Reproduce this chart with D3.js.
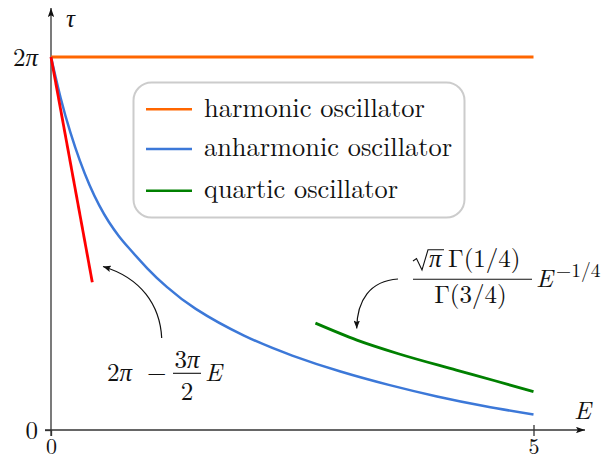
<!DOCTYPE html>
<html>
<head>
<meta charset="utf-8">
<script src="https://cdn.jsdelivr.net/npm/d3@7"></script>
<style>
  html, body { margin: 0; padding: 0; background: #fff; }
  svg { display: block; }
</style>
</head>
<body>
<svg id="chart" width="616" height="460"></svg>
<script>
const TWO_PI = 2 * Math.PI;
const FONT = '"Latin Modern Roman", "Liberation Serif", serif';

// ---- data ----
const xTicks = [0, 5];
const xTickLabels = ["0", "5"];
const yTicks = [0, TWO_PI];
const yTickLabels = ["0", "2π"];

const harmonicE = [0, 5];
const harmonicTau = [TWO_PI, TWO_PI];

const anharmonicE   = [0, 0.1, 0.2, 0.3, 0.4, 0.5, 0.6, 0.7, 0.8, 1.0, 1.2, 1.5, 2.0, 2.5, 3.0, 3.5, 4.0, 4.5, 5.0];
const anharmonicTau = [TWO_PI, 5.593, 5.018, 4.533, 4.123, 3.783, 3.503, 3.273, 3.078, 2.72, 2.41, 2.04, 1.59, 1.254, 0.985, 0.76, 0.565, 0.40, 0.26];

const quarticE   = [2.74, 3.17, 3.6, 4.2, 4.6, 5.0];
const quarticTau = [1.80, 1.515, 1.285, 1.01, 0.83, 0.645];

const smallE   = [0, 0.428];
const smallTau = [TWO_PI, 2.49];

const legendLabels = ["harmonic oscillator", "anharmonic oscillator", "quartic oscillator"];
const legendColors = ["#ff6600", "#3c78d8", "#008000"];

// ---- layout ----
const svg = d3.select("#chart");
const x = d3.scaleLinear().domain([0, 5]).range([51, 533.5]);
const y = d3.scaleLinear().domain([0, TWO_PI]).range([430, 57]);

// write a string into a text element, setting π in italic (math style)
function mathify(t, s) {
  t.text(null);
  s.split(/(π)/).filter(p => p.length).forEach(p => {
    const ts = t.append("tspan").text(p);
    if (p === "π") ts.style("font-style", "italic");
  });
}

function txt(parent, tx, ty, s, size, opts = {}) {
  const t = parent.append("text").attr("x", tx).attr("y", ty)
    .style("font-family", FONT).style("font-size", size + "px")
    .style("fill", "#111");
  mathify(t, s);
  if (opts.italic) t.style("font-style", "italic");
  if (opts.anchor) t.attr("text-anchor", opts.anchor);
  if (opts.len) t.attr("textLength", opts.len).attr("lengthAdjust", "spacingAndGlyphs");
  return t;
}

const defs = svg.append("defs");
function marker(id, w, h) {
  defs.append("marker")
    .attr("id", id)
    .attr("markerUnits", "userSpaceOnUse")
    .attr("viewBox", `0 ${-h} ${w} ${2 * h}`)
    .attr("refX", w).attr("refY", 0)
    .attr("markerWidth", w).attr("markerHeight", 2 * h)
    .attr("orient", "auto")
    .append("path")
    .attr("d", `M0,${-h} L${w},0 L0,${h} L${w * 0.2},0 Z`)
    .attr("fill", "#111");
}
marker("axisArrow", 9, 3.2);
marker("annArrow", 8, 3.2);

// axes lines
const axisColor = "#333";
svg.append("line")
  .attr("x1", x(0) - 6).attr("y1", y(0)).attr("x2", 585).attr("y2", y(0))
  .attr("stroke", axisColor).attr("stroke-width", 1.3)
  .attr("marker-end", "url(#axisArrow)");
svg.append("line")
  .attr("x1", x(0)).attr("y1", y(0) + 6).attr("x2", x(0)).attr("y2", 8)
  .attr("stroke", axisColor).attr("stroke-width", 1.3)
  .attr("marker-end", "url(#axisArrow)");

// x axis ticks
const gx = svg.append("g")
  .attr("transform", `translate(0,${y(0)})`)
  .call(d3.axisBottom(x).tickValues(xTicks)
    .tickFormat((d, i) => xTickLabels[i]).tickSize(6).tickPadding(2));
gx.select(".domain").remove();
gx.selectAll(".tick line")
  .attr("y1", d => d === 0 ? 0 : -5)
  .attr("stroke", axisColor).attr("stroke-width", 1.3);
gx.selectAll(".tick text")
  .style("font-family", FONT).style("font-size", "22px").style("fill", "#111");

// y axis ticks
const gy = svg.append("g")
  .attr("transform", `translate(${x(0)},0)`)
  .call(d3.axisLeft(y).tickValues(yTicks)
    .tickFormat((d, i) => yTickLabels[i]).tickSize(6).tickPadding(7));
gy.select(".domain").remove();
gy.selectAll(".tick line")
  .attr("x2", d => d === 0 ? -6 : 0)
  .attr("stroke", axisColor).attr("stroke-width", 1.3);
gy.selectAll(".tick text")
  .style("font-family", FONT).style("font-size", "25px").style("fill", "#111")
  .each(function (d, i) { mathify(d3.select(this), yTickLabels[i]); });

// axis titles
txt(svg, 66, 27, "τ", 25, { italic: true });
txt(svg, 574, 419, "E", 25, { italic: true });

// curves
const zip = (a, b) => a.map((v, i) => [v, b[i]]);
const straight = d3.line().x(d => x(d[0])).y(d => y(d[1]));
const smooth = d3.line().x(d => x(d[0])).y(d => y(d[1])).curve(d3.curveNatural);

svg.append("path").datum(zip(harmonicE, harmonicTau))
  .attr("d", straight).attr("fill", "none")
  .attr("stroke", legendColors[0]).attr("stroke-width", 2.8);

svg.append("path").datum(zip(anharmonicE, anharmonicTau))
  .attr("d", smooth).attr("fill", "none")
  .attr("stroke", legendColors[1]).attr("stroke-width", 2.5);

svg.append("path").datum(zip(quarticE, quarticTau))
  .attr("d", d3.line().x(d => x(d[0])).y(d => y(d[1])).curve(d3.curveMonotoneX))
  .attr("fill", "none")
  .attr("stroke", legendColors[2]).attr("stroke-width", 2.8);

svg.append("path").datum(zip(smallE, smallTau))
  .attr("d", straight).attr("fill", "none")
  .attr("stroke", "#ff0000").attr("stroke-width", 2.8);

// legend
svg.append("rect")
  .attr("x", 133.5).attr("y", 82.5).attr("width", 331).attr("height", 135)
  .attr("rx", 18).attr("ry", 18)
  .attr("fill", "#fff").attr("stroke", "#cccccc").attr("stroke-width", 2);
const legendY = [109.3, 149, 190.7];
const legendW = [221, 248, 194];
legendLabels.forEach((lab, i) => {
  svg.append("line")
    .attr("x1", 146).attr("x2", 192).attr("y1", legendY[i]).attr("y2", legendY[i])
    .attr("stroke", legendColors[i]).attr("stroke-width", 2.6);
  txt(svg, 204, legendY[i] + 7.3, lab, 26.5, { len: legendW[i] });
});

// annotation 1: small-E approximation
svg.append("path")
  .attr("d", "M161.7,338 C160,305 141,278 103,266.5")
  .attr("fill", "none").attr("stroke", "#111").attr("stroke-width", 1.2)
  .attr("marker-end", "url(#annArrow)");
txt(svg, 107, 381, "2π", 25);
txt(svg, 147, 381, "−", 25);
txt(svg, 187, 368, "3π", 25, { anchor: "middle" });
svg.append("line").attr("x1", 173).attr("x2", 201).attr("y1", 373.3).attr("y2", 373.3)
  .attr("stroke", "#111").attr("stroke-width", 1.1);
txt(svg, 187, 400, "2", 25, { anchor: "middle" });
txt(svg, 205, 381, "E", 25, { italic: true });

// annotation 2: quartic asymptote
svg.append("path")
  .attr("d", "M398,279 C370,281 357,300 356.7,328.5")
  .attr("fill", "none").attr("stroke", "#111").attr("stroke-width", 1.2)
  .attr("marker-end", "url(#annArrow)");
svg.append("path")
  .attr("d", "M413,261 L416.5,258.5 L422,270 L428,249.8 L444,249.8")
  .attr("fill", "none").attr("stroke", "#111").attr("stroke-width", 1.1)
  .attr("stroke-linejoin", "miter");
txt(svg, 429, 267, "π", 25);
txt(svg, 448, 267, "Γ(1/4)", 25);
svg.append("line").attr("x1", 413).attr("x2", 532).attr("y1", 279.3).attr("y2", 279.3)
  .attr("stroke", "#111").attr("stroke-width", 1.1);
txt(svg, 470.5, 303, "Γ(3/4)", 25, { anchor: "middle" });
txt(svg, 536, 287, "E", 25, { italic: true });
txt(svg, 556, 277, "−1/4", 19.5);
</script>
</body>
</html>
